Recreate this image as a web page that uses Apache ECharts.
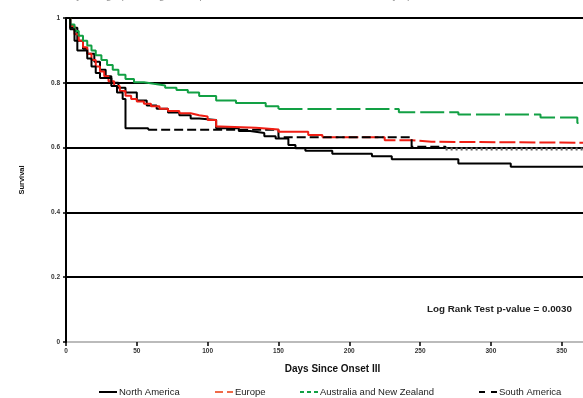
<!DOCTYPE html>
<html>
<head>
<meta charset="utf-8">
<script src="https://cdn.jsdelivr.net/npm/echarts@6/dist/echarts.min.js"></script>
<style>
  html, body { margin: 0; padding: 0; background: #fff; }
  #chart { width: 583px; height: 398px; }
</style>
</head>
<body>
<div id="chart"></div>
<script>
// Kaplan-Meier curves (days since onset -> survival)
const naDays = [0, 3, 8, 12, 15, 20, 24, 28, 32, 37, 42, 50, 57, 64, 72, 80, 88, 94, 106, 122, 130, 140, 148, 157, 162, 169, 188, 216, 230, 277, 314, 365];
const naSurv = [1, 0.97, 0.93, 0.905, 0.89, 0.865, 0.84, 0.82, 0.80, 0.785, 0.77, 0.745, 0.73, 0.72, 0.708, 0.70, 0.69, 0.685, 0.66, 0.651, 0.645, 0.635, 0.628, 0.608, 0.598, 0.59, 0.581, 0.573, 0.564, 0.551, 0.541, 0.541];

const euDays = [0, 3, 6, 9, 12, 15, 18, 21, 24, 27, 30, 34, 38, 42, 46, 50, 55, 60, 66, 72, 80, 88, 94, 100, 106, 109, 134, 150, 171, 181, 225, 244, 258, 365];
const euSurv = [1, 0.975, 0.95, 0.93, 0.91, 0.89, 0.87, 0.85, 0.835, 0.82, 0.805, 0.79, 0.775, 0.76, 0.75, 0.742, 0.735, 0.728, 0.72, 0.713, 0.706, 0.70, 0.696, 0.685, 0.665, 0.661, 0.656, 0.649, 0.639, 0.632, 0.623, 0.618, 0.615, 0.615];

const anzDays = [0, 3, 6, 9, 12, 15, 18, 21, 25, 29, 33, 37, 42, 48, 55, 62, 70, 78, 86, 94, 106, 120, 141, 150, 235, 277, 335, 361, 365];
const anzSurv = [1, 0.98, 0.96, 0.945, 0.93, 0.915, 0.90, 0.885, 0.87, 0.855, 0.84, 0.825, 0.812, 0.802, 0.797, 0.792, 0.785, 0.778, 0.77, 0.759, 0.745, 0.738, 0.728, 0.719, 0.709, 0.702, 0.693, 0.676, 0.676];

const saDays = [0, 3, 6, 8, 15, 18, 21, 24, 32, 36, 40, 42, 58, 148, 150, 242, 244, 268, 365];
const saSurv = [1, 0.965, 0.93, 0.90, 0.875, 0.85, 0.83, 0.815, 0.79, 0.77, 0.75, 0.66, 0.655, 0.655, 0.632, 0.632, 0.603, 0.596, 0.596];

const seriesNames = ['North America', 'Europe', 'Australia and New Zealand', 'South America'];
const yTicks = [0, 0.2, 0.4, 0.6, 0.8, 1];

// pairs [day, surv] between two days (inclusive)
const part = (days, surv, from, to) =>
  days.map((d, i) => [d, surv[i]]).filter(p => p[0] >= from && p[0] <= to);

const line = (name, data, color, type, width) => ({
  name,
  type: 'line',
  step: 'end',
  data,
  symbol: 'none',
  silent: true,
  lineStyle: { color, width: width || 2, type: type || 'solid' },
  itemStyle: { color }
});

const RED = '#f01e14';
const GREEN = '#12a044';

const chart = echarts.init(document.getElementById('chart'));

chart.setOption({
  animation: false,
  grid: { left: 66, right: -2, top: 18, bottom: 56 },
  legend: [
    { data: [seriesNames[0]], left: 98, lineStyle: { type: 'solid', color: '#000' } },
    { data: [seriesNames[1]], left: 214, lineStyle: { type: [8, 4], color: '#f06a48' } },
    { data: [seriesNames[2]], left: 299, lineStyle: { type: [4, 3], color: GREEN } },
    { data: [seriesNames[3]], left: 478, lineStyle: { type: [6, 6], color: '#000' } }
  ].map(l => Object.assign(l, {
    top: 387, padding: 0,
    itemWidth: 18, itemHeight: 6, itemGap: 4,
    itemStyle: { opacity: 0 },
    textStyle: { fontSize: 9.5, color: '#222', fontFamily: 'Liberation Sans', padding: [0, 0, 0, -3] }
  })),
  graphic: [
    {
      type: 'text', left: 28, top: -10,
      style: { text: 'Survival by Geographic Region: Kaplan-Meier Estimates of Survival from Symptom Onset', fontSize: 11, fill: '#999', fontFamily: 'Liberation Sans' }
    },
    {
      type: 'text', left: 427, top: 304,
      style: { text: 'Log Rank Test p-value = 0.0030', fontSize: 9.8, fontWeight: 'bold', fill: '#222', fontFamily: 'Liberation Sans' }
    }
  ],
  xAxis: {
    type: 'value',
    min: 0, max: 365, interval: 50,
    name: 'Days Since Onset III',
    nameLocation: 'middle',
    nameGap: 22,
    nameTextStyle: { fontSize: 10, fontWeight: 'bold', color: '#111', fontFamily: 'Liberation Sans', padding: [0, 0, 0, 16] },
    axisLine: { show: false },
    axisTick: { show: true, length: 4, lineStyle: { color: '#000', width: 1.5 } },
    axisLabel: {
      fontSize: 6.5, color: '#333', fontWeight: 'bold', margin: 6, fontFamily: 'Liberation Sans',
      showMaxLabel: false
    },
    splitLine: { show: false }
  },
  yAxis: {
    type: 'value',
    min: 0, max: 1, interval: 0.2,
    name: 'Survival',
    nameLocation: 'middle',
    nameGap: 40,
    nameTextStyle: { fontSize: 7.5, fontWeight: 'bold', color: '#111', fontFamily: 'Liberation Sans' },
    axisLine: { show: true, lineStyle: { color: '#000', width: 2 } },
    axisTick: { show: true, length: 3, lineStyle: { color: '#000', width: 1.5 } },
    axisLabel: {
      fontSize: 6.5, color: '#333', fontWeight: 'bold', margin: 6, fontFamily: 'Liberation Sans',
      formatter: v => (yTicks.includes(+v.toFixed(1)) ? String(+v.toFixed(1)) : '')
    },
    splitLine: {
      show: true,
      lineStyle: { color: ['#bbb', '#000', '#000', '#000', '#000', '#000'], width: 2 }
    }
  },
  series: [
    // dashed parts listed first so the legend picks them
    line(seriesNames[1], part(euDays, euSurv, 181, 365), RED, [16, 4]),
    line(seriesNames[2], part(anzDays, anzSurv, 150, 365), GREEN, [24, 5]),
    line(seriesNames[3], part(saDays, saSurv, 58, 268), '#000', [9, 4]),
    line(seriesNames[0], part(naDays, naSurv, 0, 365), '#000'),
    line(seriesNames[1], part(euDays, euSurv, 0, 181), RED),
    line(seriesNames[2], part(anzDays, anzSurv, 0, 150), GREEN),
    line(seriesNames[3], part(saDays, saSurv, 0, 58), '#000'),
    line(seriesNames[3], part(saDays, saSurv, 268, 365), '#666', [2, 3], 3)
  ]
});
</script>
</body>
</html>
